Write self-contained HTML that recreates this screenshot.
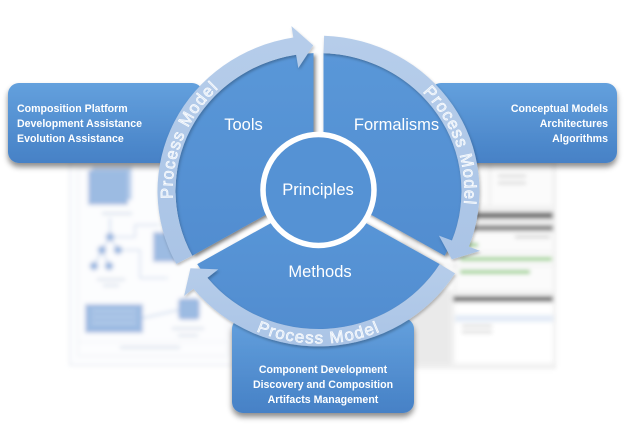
<!DOCTYPE html>
<html>
<head>
<meta charset="utf-8">
<style>
  html,body{margin:0;padding:0;background:#ffffff;}
  svg{display:block;}
  .lbl{font-family:"Liberation Sans",sans-serif;fill:#ffffff;}
  .box{font-family:"Liberation Sans",sans-serif;font-weight:bold;font-size:10.6px;fill:#ffffff;}
  .pm{font-family:"Liberation Sans",sans-serif;font-size:17px;letter-spacing:1.2px;fill:#dce8f6;stroke:#ffffff;stroke-width:0.6;}
</style>
</head>
<body>
<svg width="624" height="433" viewBox="0 0 624 433" xmlns="http://www.w3.org/2000/svg">
  <defs>
    <filter id="blur" x="-10%" y="-10%" width="120%" height="120%">
      <feGaussianBlur stdDeviation="2"/>
    </filter>
    <filter id="bsh" x="-10%" y="-20%" width="120%" height="150%">
      <feDropShadow dx="0" dy="4" stdDeviation="3" flood-color="#000" flood-opacity="0.45"/>
    </filter>
    <filter id="ssh" x="-20%" y="-20%" width="140%" height="140%">
      <feDropShadow dx="2" dy="2" stdDeviation="2" flood-color="#000" flood-opacity="0.5"/>
    </filter>
    <filter id="rsh" x="-20%" y="-20%" width="140%" height="140%">
      <feDropShadow dx="1" dy="2" stdDeviation="1.5" flood-color="#000" flood-opacity="0.25"/>
    </filter>
    <linearGradient id="boxg" x1="0" y1="0" x2="0" y2="1">
      <stop offset="0" stop-color="#63a0dd"/>
      <stop offset="1" stop-color="#4681c6"/>
    </linearGradient>
    <linearGradient id="secg" x1="0" y1="0" x2="0" y2="1">
      <stop offset="0" stop-color="#5a97d8"/>
      <stop offset="1" stop-color="#518dd0"/>
    </linearGradient>
    <linearGradient id="ringg" x1="0" y1="0" x2="0" y2="1">
      <stop offset="0" stop-color="#b6cdea"/>
      <stop offset="1" stop-color="#aac4e6"/>
    </linearGradient>
    <path id="tpL" d="M -126.44 73 A 146 146 0 0 1 -40.24 -140.34"/>
    <path id="tpR" d="M 49.93 -137.2 A 146 146 0 0 1 125.15 75.2"/>
    <path id="tpB" d="M -129.43 90.62 A 158 158 0 0 0 129.43 90.62"/>
  </defs>

  <!-- left background screenshot (blurred) -->
  <g filter="url(#blur)" opacity="0.6">
    <rect x="70" y="160" width="165" height="205" fill="#fbfcfe" stroke="#d5dde9" stroke-width="1.5"/>
    <rect x="78" y="168" width="150" height="188" fill="none" stroke="#dde4ee" stroke-width="1"/>
    <rect x="92" y="166" width="40" height="34" fill="#8db3e2"/>
    <rect x="88" y="170" width="40" height="35" fill="#5b8fd0"/>
    <rect x="102" y="212" width="30" height="3" fill="#c9d6e6"/>
    <line x1="110" y1="237" x2="110" y2="218" stroke="#9ab8e0" stroke-width="1.5"/>
    <line x1="110" y1="237" x2="102" y2="250" stroke="#9ab8e0" stroke-width="1.5"/>
    <line x1="110" y1="237" x2="118" y2="250" stroke="#9ab8e0" stroke-width="1.5"/>
    <line x1="102" y1="250" x2="94" y2="266" stroke="#9ab8e0" stroke-width="1.5"/>
    <line x1="102" y1="250" x2="109" y2="266" stroke="#9ab8e0" stroke-width="1.5"/>
    <polyline points="114,237 135,237 135,225 160,225" fill="none" stroke="#b6cbe6" stroke-width="1.5"/>
    <polyline points="122,250 140,250 140,278 168,278" fill="none" stroke="#b6cbe6" stroke-width="1.5"/>
    <circle cx="110" cy="237" r="4.5" fill="#5b8fd0"/>
    <circle cx="102" cy="250" r="4.5" fill="#5b8fd0"/>
    <circle cx="118" cy="250" r="4.5" fill="#5b8fd0"/>
    <circle cx="94" cy="266" r="4.5" fill="#5b8fd0"/>
    <circle cx="109" cy="266" r="4.5" fill="#5b8fd0"/>
    <rect x="97" y="278" width="28" height="3" fill="#cdd8e6"/>
    <rect x="103" y="284" width="16" height="3" fill="#cdd8e6"/>
    <rect x="153" y="232" width="26" height="30" fill="#5b8fd0"/>
    <rect x="85" y="304" width="58" height="29" fill="#5b8fd0"/>
    <rect x="92" y="310" width="44" height="2" fill="#8fb3e0"/>
    <rect x="92" y="316" width="44" height="2" fill="#8fb3e0"/>
    <rect x="92" y="322" width="44" height="2" fill="#8fb3e0"/>
    <line x1="143" y1="318" x2="178" y2="310" stroke="#9ab8e0" stroke-width="1.5"/>
    <rect x="178" y="298" width="22" height="22" rx="4" fill="#5b8fd0"/>
    <rect x="172" y="327" width="32" height="3" fill="#cdd8e6"/>
    <rect x="178" y="334" width="20" height="3" fill="#cdd8e6"/>
    <rect x="120" y="346" width="60" height="3" fill="#cdd8e6"/>
    <line x1="78" y1="342" x2="228" y2="342" stroke="#e4e9f1"/>
  </g>

  <!-- right background screenshot (blurred) -->
  <g filter="url(#blur)" opacity="0.85">
    <rect x="403" y="160" width="152" height="208" fill="#f1f1f1" stroke="#dcdcdc"/>
    <rect x="418" y="163" width="134" height="42" fill="#fbfbfb"/>
    <line x1="490" y1="163" x2="490" y2="205" stroke="#d8d8d8"/>
    <rect x="430" y="175" width="40" height="2" fill="#c2c2c2"/>
    <rect x="498" y="175" width="28" height="2" fill="#c2c2c2"/>
    <rect x="430" y="182" width="40" height="2" fill="#c2c2c2"/>
    <rect x="498" y="182" width="28" height="2" fill="#c2c2c2"/>
    <rect x="435" y="212" width="118" height="7" fill="#5a5a5a"/>
    <rect x="420" y="225" width="133" height="6" fill="#707070"/>
    <rect x="420" y="233" width="133" height="57" fill="#fbfbfb"/>
    <line x1="455" y1="233" x2="455" y2="290" stroke="#d9d9d9"/>
    <line x1="420" y1="252" x2="553" y2="252" stroke="#e2e2e2"/>
    <line x1="420" y1="266" x2="553" y2="266" stroke="#e2e2e2"/>
    <rect x="515" y="236" width="35" height="2" fill="#b5b5b5"/>
    <rect x="460" y="243" width="18" height="4" fill="#86c873"/>
    <rect x="460" y="257" width="92" height="4" fill="#86c873"/>
    <rect x="460" y="270" width="70" height="4" fill="#86c873"/>
    <rect x="420" y="274" width="30" height="2" fill="#b5b5b5"/>
    <rect x="403" y="290" width="48" height="75" fill="#e7e7e7"/>
    <rect x="453" y="296" width="100" height="6" fill="#5a5a5a"/>
    <rect x="455" y="303" width="98" height="60" fill="#ffffff"/>
    <rect x="455" y="315" width="98" height="7" fill="#dfe9f6"/>
    <rect x="462" y="325" width="30" height="2" fill="#c2c2c2"/>
    <rect x="462" y="331" width="30" height="2" fill="#c2c2c2"/>
  </g>

  <!-- callout boxes -->
  <g filter="url(#bsh)">
    <rect x="8" y="83" width="195" height="80" rx="11" fill="url(#boxg)"/>
    <rect x="430" y="83" width="187" height="80" rx="11" fill="url(#boxg)"/>
    <rect x="232" y="318" width="182" height="95" rx="11" fill="url(#boxg)"/>
  </g>
  <text class="box" x="17" y="112">Composition Platform</text>
  <text class="box" x="17" y="127">Development Assistance</text>
  <text class="box" x="17" y="142">Evolution Assistance</text>
  <text class="box" x="608" y="112" text-anchor="end">Conceptual Models</text>
  <text class="box" x="608" y="127" text-anchor="end">Architectures</text>
  <text class="box" x="608" y="142" text-anchor="end">Algorithms</text>
  <text class="box" x="323" y="373" text-anchor="middle">Component Development</text>
  <text class="box" x="323" y="388" text-anchor="middle">Discovery and Composition</text>
  <text class="box" x="323" y="403" text-anchor="middle">Artifacts Management</text>

  <!-- wheel -->
  <g transform="translate(318.5,191) scale(1,0.965)">
    <g filter="url(#ssh)">
      <path d="M -5 -2.89 L -126.26 67.14 A 143 143 0 0 1 -4.99 -142.91 Z" fill="url(#secg)"/>
      <path d="M 5 -2.89 L 4.99 -142.91 A 143 143 0 0 1 126.26 67.14 Z" fill="url(#secg)"/>
      <path d="M 0 5.77 L 121.27 75.78 A 143 143 0 0 1 -121.27 75.78 Z" fill="url(#secg)"/>
    </g>
    <g filter="url(#rsh)" fill="url(#ringg)">
      <path d="M -142.15 75.58 A 161 161 0 0 1 -25.19 -159.02 L -27.06 -170.87 L -5.27 -150.91 L -20.18 -127.41 L -22.37 -141.24 A 143 143 0 0 0 -126.26 67.13 Z"/>
      <path d="M 5.62 -160.9 A 161 161 0 0 1 150.31 57.7 L 161.51 62 L 133.33 70.89 L 120.43 46.23 L 133.5 51.25 A 143 143 0 0 0 4.99 -142.91 Z"/>
      <path d="M 136.54 85.32 A 161 161 0 0 1 -125.12 101.32 L -134.45 108.87 L -128.06 80.02 L -100.25 81.18 L -111.13 89.99 A 143 143 0 0 0 121.27 75.78 Z"/>
    </g>
    <text class="pm"><textPath href="#tpL" startOffset="50%" text-anchor="middle">Process Model</textPath></text>
    <text class="pm"><textPath href="#tpR" startOffset="50%" text-anchor="middle">Process Model</textPath></text>
    <text class="pm"><textPath href="#tpB" startOffset="50%" text-anchor="middle">Process Model</textPath></text>
  </g>

  <!-- center circle -->
  <circle cx="318.5" cy="190" r="55.5" fill="#5592d4" stroke="#ffffff" stroke-width="5.5"/>

  <!-- labels -->
  <text class="lbl" x="243.5" y="130" font-size="16.5" text-anchor="middle">Tools</text>
  <text class="lbl" x="396.5" y="130" font-size="16.5" text-anchor="middle">Formalisms</text>
  <text class="lbl" x="318" y="195" font-size="16.5" text-anchor="middle">Principles</text>
  <text class="lbl" x="320" y="277" font-size="16.5" text-anchor="middle">Methods</text>
</svg>
</body>
</html>
